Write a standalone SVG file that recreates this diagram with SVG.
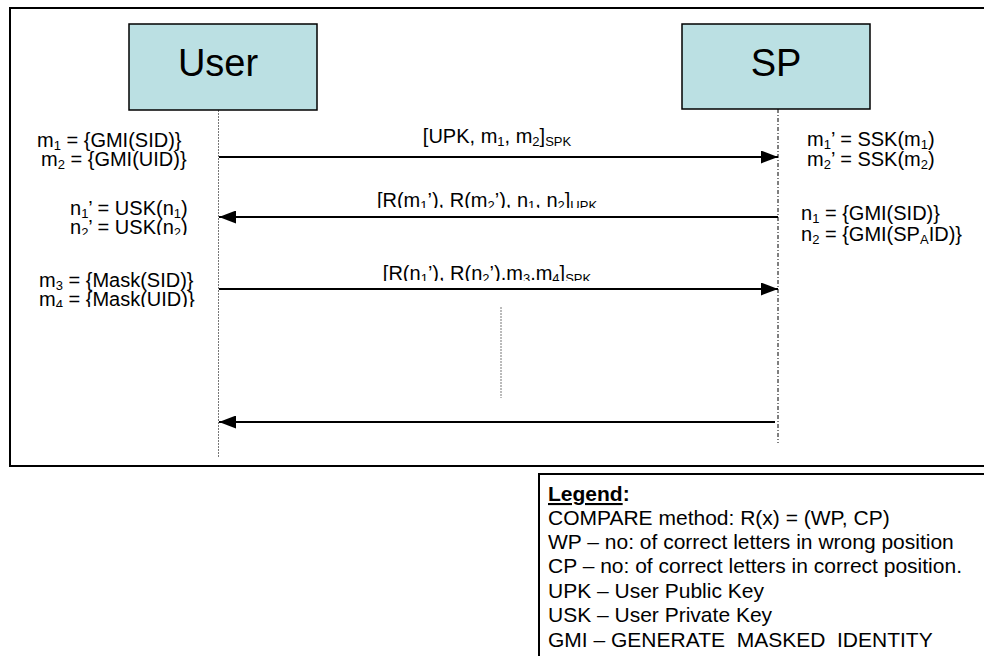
<svg xmlns="http://www.w3.org/2000/svg" width="984" height="656" viewBox="0 0 984 656">
<style>
text{font-family:"Liberation Sans",Arial,sans-serif;fill:#000}
.lbl{font-size:20px}
.sub{font-size:13px}
.big{font-size:38px}
.leg{font-size:21px}
.box{fill:#BBE0E3;stroke:#000;stroke-width:1.5}
.msg{stroke:#000;stroke-width:2;fill:none}
</style>
<defs>
<marker id="ah" markerUnits="userSpaceOnUse" markerWidth="17" markerHeight="13" refX="17" refY="6.5" orient="auto">
<path d="M0,0 L17,6.5 L0,13 z" fill="#000"/>
</marker>
<clipPath id="clipL2"><rect x="300" y="170" width="400" height="38"/></clipPath>
<clipPath id="clipL3"><rect x="300" y="245" width="400" height="36"/></clipPath>
<clipPath id="clipN"><rect x="40" y="190" width="170" height="45"/></clipPath>
<clipPath id="clipM"><rect x="20" y="262" width="190" height="45"/></clipPath>
</defs>
<rect id="frame" x="10" y="8" width="990" height="458" fill="#fff" stroke="#000" stroke-width="2"/>
<g id="lifelines">
<line x1="218.5" y1="110" x2="218.5" y2="457" stroke="#777" stroke-width="1" stroke-dasharray="2,1"/>
<line x1="778" y1="109" x2="778" y2="443" stroke="#000" stroke-width="1" stroke-dasharray="4,2,1,2"/>
<line x1="501" y1="307" x2="501" y2="398" stroke="#777" stroke-width="1" stroke-dasharray="2,1"/>
</g>
<g id="node-user">
<rect class="box" x="129" y="24" width="188" height="86"/>
<text class="big" x="218" y="76" text-anchor="middle">User</text>
</g>
<g id="node-sp">
<rect class="box" x="682" y="24" width="188" height="85"/>
<text class="big" x="776" y="76" text-anchor="middle">SP</text>
</g>
<g id="connectors">
<line class="msg" x1="219" y1="157" x2="778" y2="157" marker-end="url(#ah)"/>
<line class="msg" x1="778" y1="217" x2="219" y2="217" marker-end="url(#ah)"/>
<line class="msg" x1="219" y1="289" x2="778" y2="289" marker-end="url(#ah)"/>
<line class="msg" x1="775" y1="422" x2="219" y2="422" marker-end="url(#ah)"/>
</g>
<g id="msg-labels" class="lbl">
<text x="497" y="143" text-anchor="middle">[UPK, m<tspan class="sub" dy="3">1</tspan><tspan dy="-3">, m</tspan><tspan class="sub" dy="3">2</tspan><tspan dy="-3">]</tspan><tspan class="sub" dy="3">SPK</tspan></text>
<text clip-path="url(#clipL2)" x="487" y="207" text-anchor="middle">[R(m<tspan class="sub" dy="3">1</tspan><tspan dy="-3">’), R(m</tspan><tspan class="sub" dy="3">2</tspan><tspan dy="-3">’), n</tspan><tspan class="sub" dy="3">1</tspan><tspan dy="-3">, n</tspan><tspan class="sub" dy="3">2</tspan><tspan dy="-3">]</tspan><tspan class="sub" dy="3">UPK</tspan></text>
<text clip-path="url(#clipL3)" x="487" y="280" text-anchor="middle">[R(n<tspan class="sub" dy="3">1</tspan><tspan dy="-3">’), R(n</tspan><tspan class="sub" dy="3">2</tspan><tspan dy="-3">’).m</tspan><tspan class="sub" dy="3">3</tspan><tspan dy="-3">.m</tspan><tspan class="sub" dy="3">4</tspan><tspan dy="-3">]</tspan><tspan class="sub" dy="3">SPK</tspan></text>
</g>
<g id="user-notes" class="lbl">
<text><tspan x="37" y="147">m</tspan><tspan class="sub" dy="3">1</tspan><tspan dy="-3"> = {GMI(SID)}</tspan><tspan x="41" y="166">m</tspan><tspan class="sub" dy="3">2</tspan><tspan dy="-3"> = {GMI(UID)}</tspan></text>
<text clip-path="url(#clipN)"><tspan x="70" y="215">n</tspan><tspan class="sub" dy="3">1</tspan><tspan dy="-3">’ = USK(n</tspan><tspan class="sub" dy="3">1</tspan><tspan dy="-3">)</tspan><tspan x="70" y="234">n</tspan><tspan class="sub" dy="3">2</tspan><tspan dy="-3">’ = USK(n</tspan><tspan class="sub" dy="3">2</tspan><tspan dy="-3">)</tspan></text>
<text clip-path="url(#clipM)"><tspan x="39" y="287">m</tspan><tspan class="sub" dy="3">3</tspan><tspan dy="-3"> = {Mask(SID)}</tspan><tspan x="39" y="306">m</tspan><tspan class="sub" dy="3">4</tspan><tspan dy="-3"> = {Mask(UID)}</tspan></text>
</g>
<g id="sp-notes" class="lbl">
<text><tspan x="807" y="146">m</tspan><tspan class="sub" dy="3">1</tspan><tspan dy="-3">’ = SSK(m</tspan><tspan class="sub" dy="3">1</tspan><tspan dy="-3">)</tspan><tspan x="807" y="166">m</tspan><tspan class="sub" dy="3">2</tspan><tspan dy="-3">’ = SSK(m</tspan><tspan class="sub" dy="3">2</tspan><tspan dy="-3">)</tspan></text>
<text><tspan x="801" y="220">n</tspan><tspan class="sub" dy="3">1</tspan><tspan dy="-3"> = {GMI(SID)}</tspan><tspan x="801" y="241">n</tspan><tspan class="sub" dy="3">2</tspan><tspan dy="-3"> = {GMI(SP</tspan><tspan class="sub" dy="3">A</tspan><tspan dy="-3">ID)}</tspan></text>
</g>
<g id="legend">
<rect x="539" y="474" width="460" height="200" fill="#fff" stroke="#000" stroke-width="2"/>
<text class="leg" xml:space="preserve"><tspan x="548" y="501" font-weight="bold"><tspan text-decoration="underline">Legend</tspan>:</tspan><tspan x="548" y="525">COMPARE method: R(x) = (WP, CP)</tspan><tspan x="548" y="549">WP – no: of correct letters in wrong position</tspan><tspan x="548" y="573">CP – no: of correct letters in correct position.</tspan><tspan x="548" y="598">UPK – User Public Key</tspan><tspan x="548" y="622">USK – User Private Key</tspan><tspan x="548" y="647">GMI – GENERATE  MASKED  IDENTITY</tspan></text>
</g>
</svg>
